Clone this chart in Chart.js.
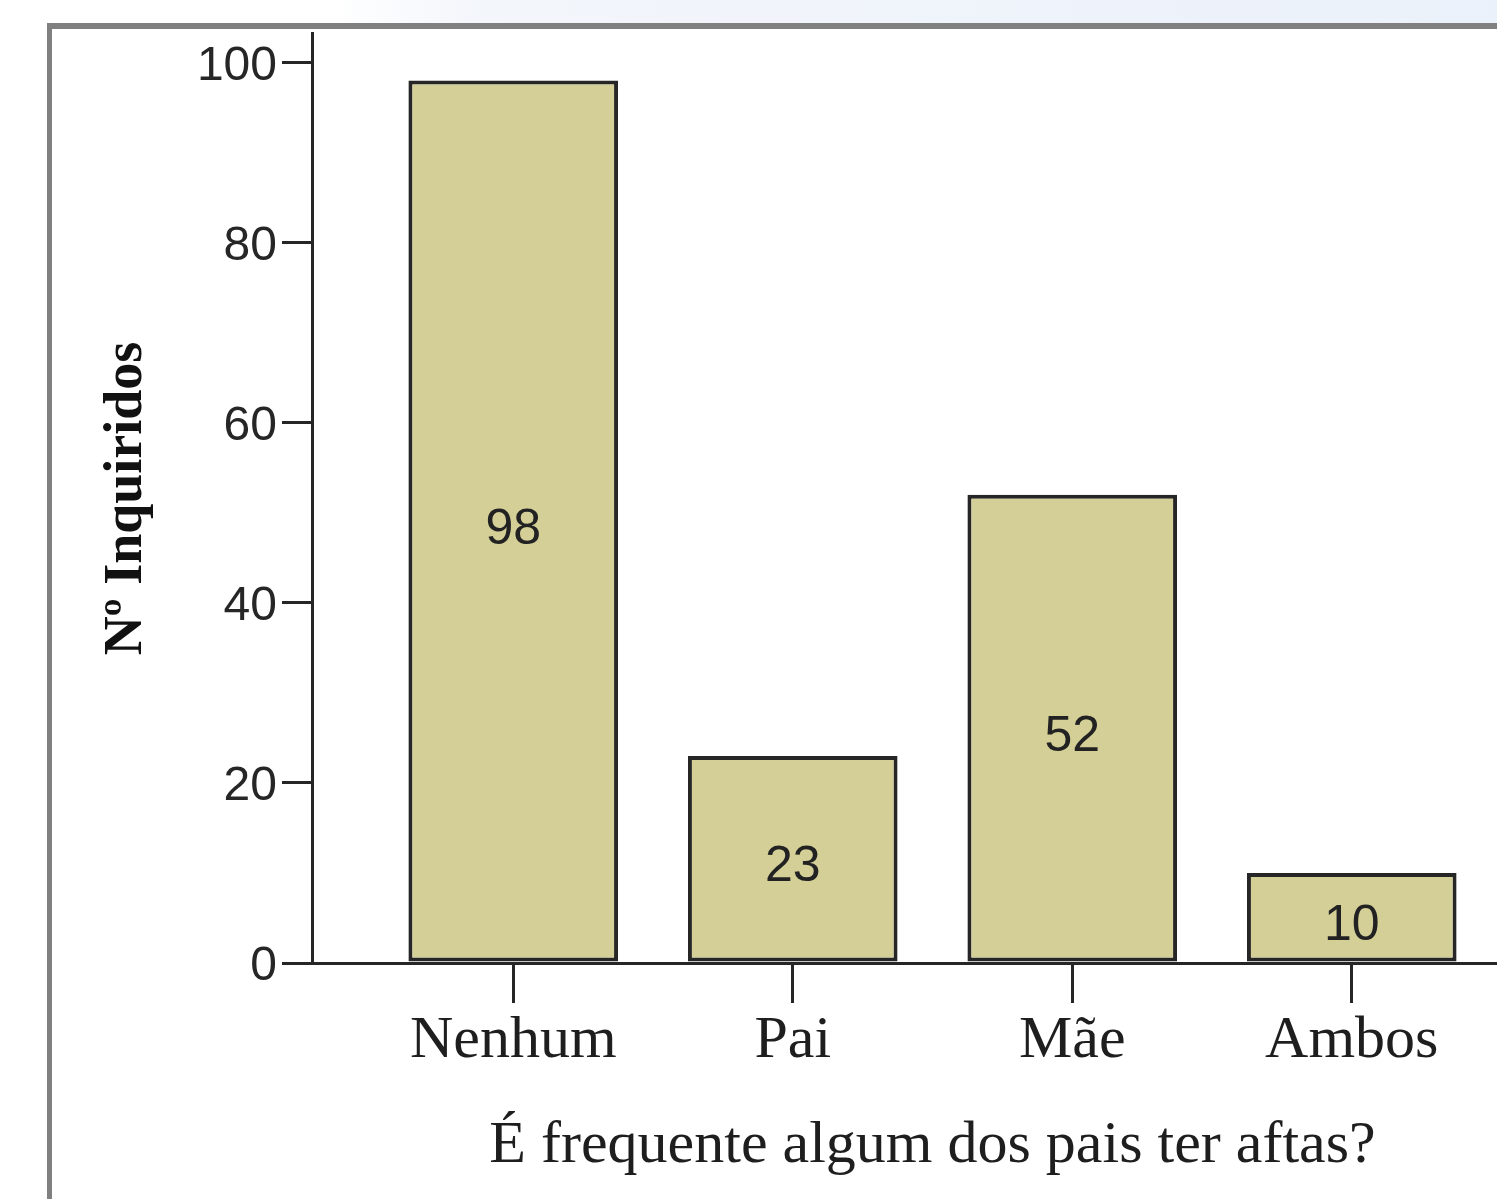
<!DOCTYPE html>
<html lang="pt">
<head>
<meta charset="utf-8">
<title>É frequente algum dos pais ter aftas?</title>
<script src="https://cdn.jsdelivr.net/npm/chart.js@4.4.1/dist/chart.umd.min.js"></script>
<style>
  html, body { margin: 0; padding: 0; width: 1497px; height: 1199px; overflow: hidden; background: #fff; }
  #topo { position: absolute; left: 0; top: 0; width: 1497px; height: 23px;
          background: linear-gradient(to right, #ffffff 0%, #ffffff 22%, #f3f6fb 32%, #ebf1fa 100%); }
  #moldura { position: absolute; left: 47px; top: 23px; width: 1600px; height: 1300px;
             border-left: 5px solid #808080; border-top: 6px solid #808080; background: #fff; }
  #grafico { position: absolute; left: 0; top: 0; }
</style>
</head>
<body>
<div id="topo"></div>
<div id="moldura"></div>
<canvas id="grafico" width="1560" height="1199"></canvas>
<script>
// dados do gráfico
const categorias = ['Nenhum', 'Pai', 'Mãe', 'Ambos'];
const valores = [98, 23, 52, 10];
const ticksY = [0, 20, 40, 60, 80, 100];

const tituloX = 'É frequente algum dos pais ter aftas?';
const tituloY = 'Nº Inquiridos';

const corBarra = '#d3cf97';
const corLinha = '#262626';

// escreve o valor no meio de cada barra
const rotulosValores = {
    id: 'rotulosValores',
    afterDatasetsDraw(chart) {
        const ctx = chart.ctx;
        const meta = chart.getDatasetMeta(0);
        ctx.save();
        ctx.font = '50px "Liberation Sans", Arial, sans-serif';
        ctx.fillStyle = '#222';
        ctx.textAlign = 'center';
        ctx.textBaseline = 'middle';
        meta.data.forEach((barra, i) => {
            const y = (barra.y + barra.base) / 2 + 9;
            ctx.fillText(String(valores[i]), barra.x, y);
        });
        ctx.restore();
    }
};

const ctx = document.getElementById('grafico').getContext('2d');

new Chart(ctx, {
    type: 'bar',
    data: {
        datasets: [{
            data: valores.map((v, i) => ({ x: i, y: v })),
            backgroundColor: corBarra,
            borderColor: corLinha,
            borderWidth: 4,
            borderSkipped: false,
            barPercentage: 0.75,
            categoryPercentage: 1
        }]
    },
    options: {
        responsive: false,
        animation: false,
        layout: { padding: { top: 25, left: 0, right: 7, bottom: 0 } },
        plugins: {
            legend: { display: false },
            tooltip: { enabled: false }
        },
        scales: {
            x: {
                type: 'linear',
                min: -0.72,
                max: 3.72,
                offset: false,
                afterBuildTicks: (scale) => {
                    scale.ticks = categorias.map((c, i) => ({ value: i }));
                },
                afterFit: (scale) => { scale.height = 236; },
                grid: {
                    offset: false,
                    drawOnChartArea: false,
                    drawTicks: true,
                    tickLength: 40,
                    color: corLinha,
                    lineWidth: 3
                },
                border: { display: true, color: corLinha, width: 3 },
                ticks: {
                    autoSkip: false,
                    maxRotation: 0,
                    padding: 2,
                    color: '#1e1e1e',
                    font: { family: '"Liberation Serif", "Times New Roman", serif', size: 60 },
                    callback: (v) => categorias[v]
                },
                title: {
                    display: true,
                    text: tituloX,
                    color: '#1e1e1e',
                    font: { family: '"Liberation Serif", "Times New Roman", serif', size: 60 },
                    padding: { top: 0, bottom: 17 }
                }
            },
            y: {
                min: 0,
                max: 103.2,
                afterBuildTicks: (scale) => {
                    scale.ticks = ticksY.map(v => ({ value: v }));
                },
                afterFit: (scale) => { scale.width = 312; },
                grid: {
                    drawOnChartArea: false,
                    drawTicks: true,
                    tickLength: 30,
                    color: corLinha,
                    lineWidth: 3
                },
                border: { display: true, color: corLinha, width: 3 },
                ticks: {
                    padding: 5,
                    labelOffset: 4,
                    color: '#262626',
                    font: { family: '"Liberation Sans", Arial, sans-serif', size: 48 }
                },
                title: {
                    display: true,
                    text: tituloY,
                    color: '#111',
                    font: { family: '"Liberation Serif", "Times New Roman", serif', size: 54, weight: 'bold' },
                    padding: { top: 95, bottom: 0 }
                }
            }
        }
    },
    plugins: [rotulosValores]
});
</script>
</body>
</html>
